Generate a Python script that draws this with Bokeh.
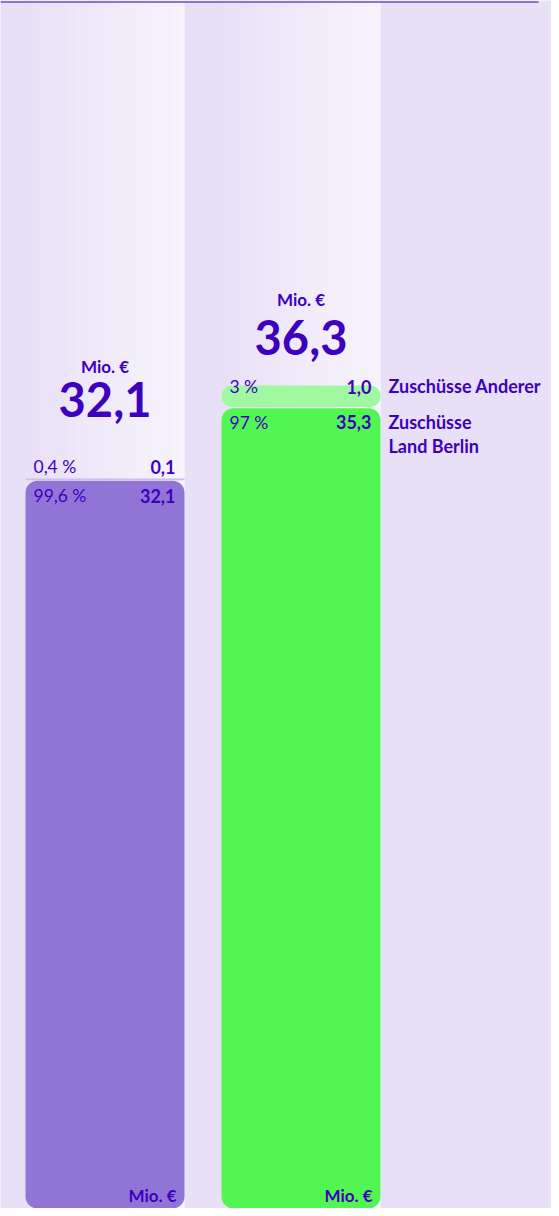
from bokeh.plotting import figure
from bokeh.models import Range1d, ColumnDataSource
from bokeh.core.properties import value
from bokeh.embed import file_html
from bokeh.resources import INLINE

# ---- data ----
categories = ["Ausgaben", "Einnahmen"]
main_values = [32.1, 35.3]
main_pcts = ["99,6\u202f%", "97\u202f%"]
top_values = [0.1, 1.0]
top_pcts = ["0,4\u202f%", "3\u202f%"]
totals = [32.1, 36.3]
unit_label = "Mio. €"
legend_labels = ["Zuschüsse Anderer", "Zuschüsse\nLand Berlin"]

def fmt(v):
    return f"{v:.1f}".replace(".", ",")

# ---- styles ----
BG = (232, 224, 247)
WHITE = (247, 244, 252)
TXT = "#3d00bf"
MAIN_COLORS = ["#9175d6", "#52f652"]
TOP_COLORS = ["#cbbdf1", "#a0f8a0"]
FONT = "Lato"

W, H = 551, 1208
K = 22.67  # px per Mio
YMAX = H / K

p = figure(width=W, height=H, x_range=Range1d(0, W), y_range=Range1d(0, YMAX),
           output_backend="svg", toolbar_location=None, min_border=0,
           x_axis_type=None, y_axis_type=None)
p.background_fill_color = "#e8e0f7"
p.border_fill_color = "#e8e0f7"
p.outline_line_color = None
p.grid.visible = False

xc = [104.5, 300.5]
bw = 159

# gradient columns (decoration)
N = 40
for c in xc:
    lefts, rights, cols = [], [], []
    for i in range(N):
        t = ((i + 0.5) / N) ** 0.9
        col = tuple(int(round(BG[j] + (WHITE[j] - BG[j]) * t)) for j in range(3))
        lefts.append(c - bw / 2 + bw * i / N)
        rights.append(c - bw / 2 + bw * (i + 1) / N + 0.3)
        cols.append("#%02x%02x%02x" % col)
    p.quad(left=lefts, right=rights, top=YMAX, bottom=0, fill_color=cols, line_color=None)

# top line
yl = YMAX - 1.5 / K
p.segment(x0=[0], x1=[538], y0=[yl], y1=[yl], line_color="#8e72d8", line_width=2)

# bars
main_src = ColumnDataSource(dict(x=xc, top=main_values, color=MAIN_COLORS))
p.vbar(x="x", width=bw, bottom=0, top="top", fill_color="color", line_color=None,
       border_radius=12, source=main_src)

stack_top = [m + t for m, t in zip(main_values, top_values)]
# thin left top segment
p.vbar(x=[xc[0]], width=bw, bottom=[main_values[0] + 0.02], top=[stack_top[0]],
       fill_color=TOP_COLORS[0], line_color=None)
# right pill
p.vbar(x=[xc[1]], width=bw, bottom=[main_values[1] + 0.06], top=[stack_top[1]],
       fill_color=TOP_COLORS[1], line_color=None, border_radius=10)

def txt(x, y, text, size, bold=False, align="left", baseline="middle"):
    p.text(x=x, y=y, text=text, text_font=value(FONT), text_font_size=f"{size}px",
           text_font_style="bold" if bold else "normal", text_color=TXT,
           text_align=align, text_baseline=baseline)

# per-bar pixel offsets (screen, + = down) relative to stack top / main top
unit_off = [-112.5, -86]
total_off = [-79, -48]
toplab_off = [-12, 1]
mainlab_off = [15, 14]

lx = [c - bw / 2 + 8 for c in xc]
rx = [c + bw / 2 - 9 for c in xc]

txt(xc, [stack_top[i] - unit_off[i] / K for i in range(2)], [unit_label] * 2, 17, bold=True, align="center")
txt(xc, [stack_top[i] - total_off[i] / K for i in range(2)], [fmt(v) for v in totals], 47, bold=True, align="center")
txt(lx, [stack_top[i] - toplab_off[i] / K for i in range(2)], top_pcts, 17.5)
txt(rx, [stack_top[i] - toplab_off[i] / K for i in range(2)], [fmt(v) for v in top_values], 18, bold=True, align="right")
txt(lx, [main_values[i] - mainlab_off[i] / K for i in range(2)], main_pcts, 17.5)
txt(rx, [main_values[i] - mainlab_off[i] / K for i in range(2)], [fmt(v) for v in main_values], 18, bold=True, align="right")

# legend labels next to right bar
legx = xc[1] + bw / 2 + 8
txt([legx], [stack_top[1] - 0.5 / K], [legend_labels[0]], 18, bold=True)
lines = legend_labels[1].split("\n")
txt([legx] * len(lines), [main_values[1] - (14 + 23.5 * i) / K for i in range(len(lines))], lines, 18, bold=True)

# bottom unit labels
txt([c + bw / 2 - 8 for c in xc], [13 / K] * 2, [unit_label] * 2, 17, bold=True, align="right")

open("out.html", "w").write(file_html(p, INLINE))
